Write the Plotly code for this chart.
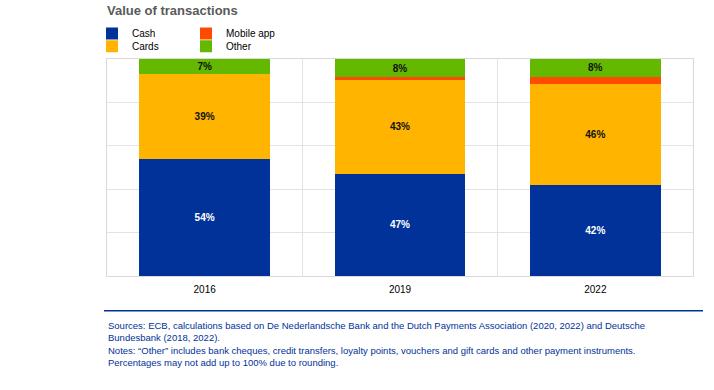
import plotly.graph_objects as go

years = ["2016", "2019", "2022"]
cash = [53.7, 47.1, 41.8]
cards = [39.3, 43.4, 46.6]
mobile_app = [0.0, 1.2, 3.4]
other = [7.0, 8.3, 8.3]
cash_labels = ["54%", "47%", "42%"]
cards_labels = ["39%", "43%", "46%"]
other_labels = ["7%", "8%", "8%"]

BLUE = "#003299"
YELLOW = "#FFB400"
ORANGE = "#FF4B00"
GREEN = "#65B800"
GRID = "#e3e3e3"
FONT = "Liberation Sans, Arial, sans-serif"

OFF = 0  # body margin removed by post_script
W, H = 714, 390
L, R, T, B = 107 - OFF, W - (693 - OFF), 59 - OFF, H - (276 - OFF)
PW = W - L - R
PH = H - T - B


def px_x(x):
    return (x - OFF - L) / PW


def px_y(y):
    return (H - B - (y - OFF)) / PH


fig = go.Figure()
lab_font_dark = dict(family=FONT, size=10, color="#111111")
lab_font_light = dict(family=FONT, size=10, color="#ffffff")

fig.add_trace(go.Bar(x=years, y=cash, name="Cash", marker_color=BLUE,
                     text=[f"<b>{t}</b>" for t in cash_labels], textposition="inside",
                     insidetextanchor="middle", textfont=lab_font_light,
                     legend="legend", hoverinfo="skip"))
fig.add_trace(go.Bar(x=years, y=cards, name="Cards", marker_color=YELLOW,
                     text=[f"<b>{t}</b>" for t in cards_labels], textposition="inside",
                     insidetextanchor="middle", textfont=lab_font_dark,
                     legend="legend2", hoverinfo="skip"))
fig.add_trace(go.Bar(x=years, y=mobile_app, name="Mobile app", marker_color=ORANGE,
                     textposition="none", legend="legend", hoverinfo="skip"))
fig.add_trace(go.Bar(x=years, y=other, name="Other", marker_color=GREEN,
                     text=[f"<b>{t}</b>" for t in other_labels], textposition="inside",
                     insidetextanchor="middle", textfont=lab_font_dark,
                     legend="legend2", hoverinfo="skip"))

for tr in fig.data:
    tr.marker.line.width = 0

legend_common = dict(orientation="h", xanchor="left", yanchor="middle",
                     font=dict(family=FONT, size=10, color="#000000"),
                     bgcolor="rgba(0,0,0,0)", borderwidth=0, traceorder="normal",
                     entrywidth=49, entrywidthmode="pixels",
                     itemclick=False, itemdoubleclick=False)

fig.update_layout(
    width=W, height=H,
    margin=dict(l=L, r=R, t=T, b=B, pad=0),
    paper_bgcolor="white", plot_bgcolor="white",
    barmode="stack", bargap=0.33,
    font=dict(family=FONT, size=10, color="#000000"),
    uniformtext=dict(minsize=10, mode="show"),
    title=dict(text="<b>Value of transactions</b>", x=(107 - OFF) / W, xanchor="left",
               xref="container", y=1 - (10.5 - OFF) / H, yref="container", yanchor="middle",
               font=dict(family=FONT, size=13, color="#5a5a5a")),
    legend=dict(x=px_x(92), y=px_y(33.5), **legend_common),
    legend2=dict(x=px_x(92), y=px_y(46.3), **legend_common),
    xaxis=dict(type="category", tickson="boundaries", showgrid=True, gridcolor=GRID,
               gridwidth=1, ticks="", showline=True, mirror=True, linecolor="#d9d9d9",
               linewidth=1, tickfont=dict(family=FONT, size=10, color="#000000"),
               ticklabelstandoff=4, fixedrange=True),
    yaxis=dict(range=[0, 100], tickvals=[0, 20, 40, 60, 80, 100], showticklabels=False,
               showgrid=True, gridcolor=GRID, gridwidth=1, zeroline=False, ticks="",
               showline=True, mirror=True, linecolor="#d9d9d9", linewidth=1,
               fixedrange=True),
    showlegend=True,
)

fig.add_shape(type="line", xref="paper", yref="paper",
              x0=px_x(104), x1=px_x(703), y0=px_y(310.7), y1=px_y(310.7),
              line=dict(color=BLUE, width=1.5))

notes = ("Sources: ECB, calculations based on De Nederlandsche Bank and the Dutch Payments Association (2020, 2022) and Deutsche<br>"
         "Bundesbank (2018, 2022).<br>"
         "Notes: “Other” includes bank cheques, credit transfers, loyalty points, vouchers and gift cards and other payment instruments.<br>"
         "Percentages may not add up to 100% due to rounding.")
fig.add_annotation(text=notes, xref="paper", yref="paper", x=px_x(106), y=px_y(318),
                   xanchor="left", yanchor="top", align="left", showarrow=False,
                   font=dict(family=FONT, size=9.5, color=BLUE))

fig.write_html("out.html", config={"displayModeBar": False},
               post_script="document.body.style.margin='0';document.body.style.padding='0';")
